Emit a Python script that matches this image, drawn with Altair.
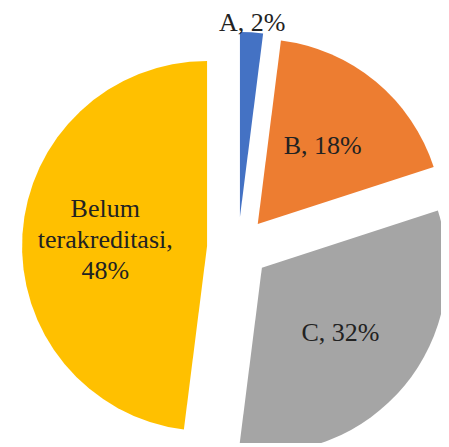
import altair as alt
import pandas as pd

categories = ["A", "B", "C", "Belum terakreditasi"]
shares = [2, 18, 32, 48]
colors = ["#4472C4", "#ED7D31", "#A5A5A5", "#FFC000"]

labels = []
for c, v in zip(categories, shares):
    s = f"{c}, {v}%"
    if len(s) > 12:
        s = s.replace(" ", "\n")
    labels.append(s)

df = pd.DataFrame({
    "category": categories,
    "share": shares,
    "label": labels,
    "order": list(range(len(categories))),
})

EXPLODE = 31
R = 185
LINE_H = 31

base = (
    alt.Chart(df)
    .transform_window(cum="sum(share)", sort=[alt.SortField("order")], frame=[None, 0])
    .transform_joinaggregate(total="sum(share)")
    .transform_calculate(
        end="2*PI*datum.cum/datum.total",
        start="2*PI*(datum.cum-datum.share)/datum.total",
        nlines="length(split(datum.label, '\\n'))",
    )
    .transform_calculate(mid="(datum.start+datum.end)/2")
    .transform_calculate(
        cx=f"{EXPLODE}*sin(datum.mid)",
        cy=f"{EXPLODE}*cos(datum.mid)",
        lr="datum.share < 5 ? 194 : 102",
    )
    .transform_calculate(
        lx="datum.cx + datum.lr*sin(datum.mid)",
        ly=f"datum.cy + datum.lr*cos(datum.mid) + (datum.nlines-1)*{LINE_H}/2",
    )
)

xs = alt.Scale(domain=[-200, 200], nice=False, zero=False)
ys = alt.Scale(domain=[-195, 195], nice=False, zero=False)

arcs = base.mark_arc(radius=R, stroke=None).encode(
    x=alt.X("cx:Q", scale=xs, axis=None),
    y=alt.Y("cy:Q", scale=ys, axis=None),
    theta=alt.Theta("start:Q", scale=None),
    theta2=alt.Theta2("end:Q"),
    color=alt.Color("category:N", scale=alt.Scale(domain=categories, range=colors), legend=None),
)

texts = base.mark_text(
    font="Liberation Serif", fontSize=26, color="#222222",
    align="center", baseline="middle", lineBreak="\n", lineHeight=LINE_H,
).encode(
    x=alt.X("lx:Q", scale=xs, axis=None),
    y=alt.Y("ly:Q", scale=ys, axis=None),
    text="label:N",
)

chart = (
    alt.layer(arcs, texts)
    .properties(
        width=400, height=390,
        padding={"left": 30, "top": 45, "right": 3, "bottom": 0},
        autosize="none",
    )
    .configure_view(stroke=None)
)

chart.save("out.html", embed_options={"renderer": "svg", "actions": False})
